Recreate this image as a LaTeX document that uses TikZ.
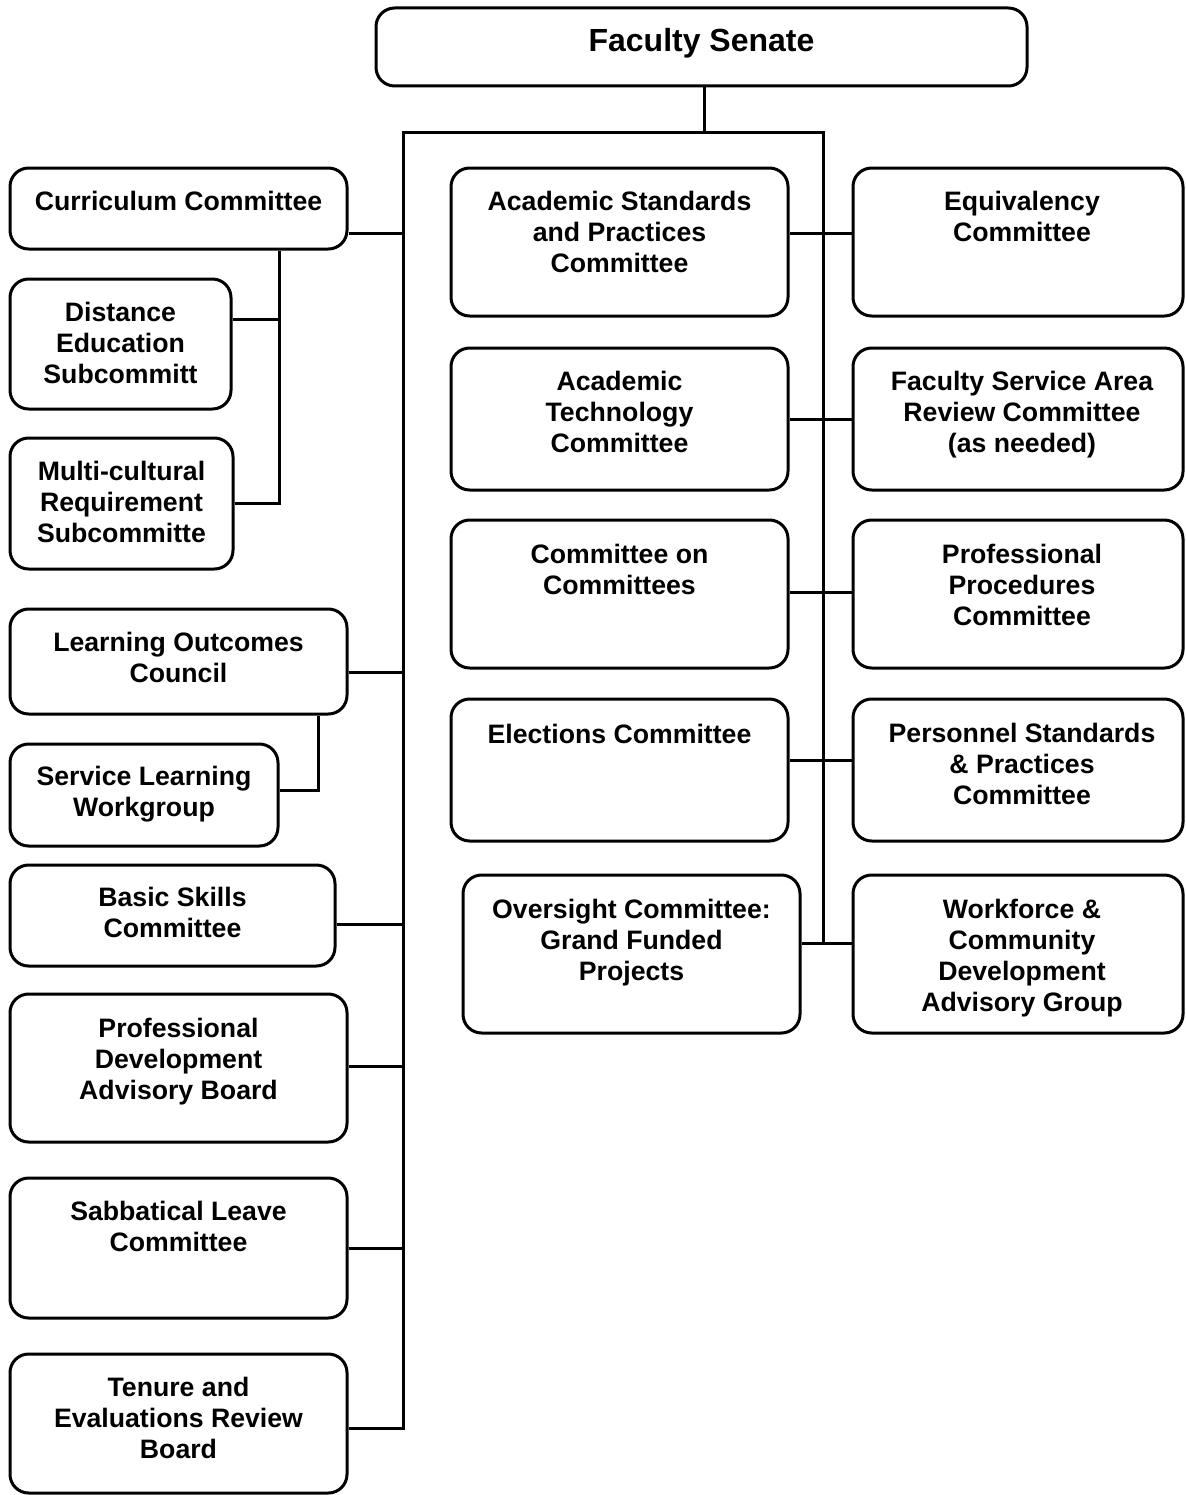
\documentclass[tikz,border=0pt]{standalone}
\usepackage{fontspec}
\setmainfont{Liberation Sans}
\usepackage{tikz}
\usetikzlibrary{positioning}

\tikzset{
    unit/.style={rectangle, draw, rounded corners=14pt, line width=2.25pt, inner sep=0pt},
    sz/.style 2 args={minimum width=#1*0.75pt, minimum height=#2*0.75pt},
    boxtext/.style={align=center, inner sep=0pt, font=\bfseries\fontsize{20}{23.25}\selectfont},
    link/.style={line width=2.25pt}
}

\begin{document}
\begin{tikzpicture}[x=0.75pt, y=-0.75pt]
\useasboundingbox (0,0) rectangle (1185,1495);

% Senate at the top
\node[unit, sz={651}{78}] (fs) at (701.5,47) {};
\node[boxtext, font=\bfseries\fontsize{24}{28}\selectfont, below=16pt of fs.north] (fs-t) {Faculty Senate};

% Left column
\node[unit, sz={337}{81}] (cc) at (178.5,208.5) {};
\node[boxtext, below=18.2pt of cc.north] (cc-t) {Curriculum Committee};
\node[unit, sz={221}{130}] (de) at (120.5,344) {};
\node[boxtext, below=18.2pt of de.north] (de-t) {Distance\\Education\\Subcommitt};
\node[unit, sz={223}{131}] (mc) at (121.5,503.5) {};
\node[boxtext, below=18.2pt of mc.north] (mc-t) {Multi-cultural\\Requirement\\Subcommitte};
\node[unit, sz={337}{105}] (lo) at (178.5,661.5) {};
\node[boxtext, below=18.2pt of lo.north] (lo-t) {Learning Outcomes\\Council};
\node[unit, sz={268}{102}] (sl) at (144,795) {};
\node[boxtext, below=17.6pt of sl.north] (sl-t) {Service Learning\\Workgroup};
\node[unit, sz={325}{101}] (bs) at (172.5,915.5) {};
\node[boxtext, below=17.6pt of bs.north] (bs-t) {Basic Skills\\Committee};
\node[unit, sz={337}{148}] (pd) at (178.5,1068) {};
\node[boxtext, below=18.9pt of pd.north] (pd-t) {Professional\\Development\\Advisory Board};
\node[unit, sz={337}{140}] (sb) at (178.5,1248) {};
\node[boxtext, below=18.2pt of sb.north] (sb-t) {Sabbatical Leave\\Committee};
\node[unit, sz={337}{139}] (te) at (178.5,1423.5) {};
\node[boxtext, below=18.2pt of te.north] (te-t) {Tenure and\\Evaluations Review\\Board};

% Middle column
\node[unit, sz={337}{148}] (as) at (619.5,242) {};
\node[boxtext, below=18.2pt of as.north] (as-t) {Academic Standards\\and Practices\\Committee};
\node[unit, sz={337}{142}] (at) at (619.5,419) {};
\node[boxtext, below=18.2pt of at.north] (at-t) {Academic\\Technology\\Committee};
\node[unit, sz={337}{148}] (coc) at (619.5,594) {};
\node[boxtext, below=18.9pt of coc.north] (coc-t) {Committee on\\Committees};
\node[unit, sz={337}{142}] (el) at (619.5,770) {};
\node[boxtext, below=19.6pt of el.north] (el-t) {Elections Committee};
\node[unit, sz={337}{158}] (ov) at (631.5,954) {};
\node[boxtext, below=18.9pt of ov.north] (ov-t) {Oversight Committee:\\Grand Funded\\Projects};

% Right column
\node[unit, sz={330}{148}] (eq) at (1018,242) {};
\node[boxtext, below=18.2pt of eq.north, xshift=3pt] (eq-t) {Equivalency\\Committee};
\node[unit, sz={330}{142}] (fsa) at (1018,419) {};
\node[boxtext, below=18.2pt of fsa.north, xshift=3pt] (fsa-t) {Faculty Service Area\\Review Committee\\(as needed)};
\node[unit, sz={330}{148}] (pp) at (1018,594) {};
\node[boxtext, below=18.9pt of pp.north, xshift=3pt] (pp-t) {Professional\\Procedures\\Committee};
\node[unit, sz={330}{142}] (ps) at (1018,770) {};
\node[boxtext, below=18.9pt of ps.north, xshift=3pt] (ps-t) {Personnel Standards\\\& Practices\\Committee};
\node[unit, sz={330}{158}] (wf) at (1018,954) {};
\node[boxtext, below=18.9pt of wf.north, xshift=3pt] (wf-t) {Workforce \&\\Community\\Development\\Advisory Group};

% Bus lines
\coordinate (lbus) at (403,132);
\coordinate (rbus) at (823,132);
\draw[link] ([xshift=1.9pt]fs.south) -- ([xshift=1.9pt]fs.south |- lbus);
\draw[link] ([yshift=-3.4pt]te.east) -| (lbus) -- (rbus) |- ([yshift=8.25pt]ov.east);

% Left branches
\draw[link] ([yshift=-18.4pt]cc.east) -| (lbus);
\draw[link] ([yshift=-7.9pt]lo.east) -| (lbus);
\draw[link] ([yshift=-6.4pt]bs.east) -| (lbus);
\draw[link] ([yshift=1.5pt]pd.east) -| (lbus);
\draw[link] (sb.east) -| (lbus);

% Subcommittees
\coordinate (cc-tap) at ([xshift=-51.75pt]cc.south east);
\draw[link] (cc-tap) |- (mc.east);
\draw[link] ([yshift=18.75pt]de.east) -| (cc-tap);
\coordinate (lo-tap) at ([xshift=-22.5pt]lo.south east);
\draw[link] (lo-tap) |- ([yshift=3.75pt]sl.east);

% Middle to right
\draw[link] ([yshift=6.75pt]as.east) -- ([yshift=6.75pt]eq.west);
\draw[link] (at.east) -- (fsa.west);
\draw[link] ([yshift=1.5pt]coc.east) -- ([yshift=1.5pt]pp.west);
\draw[link] ([yshift=7.5pt]el.east) -- ([yshift=7.5pt]ps.west);
\draw[link] ([yshift=8.25pt]ov.east) -- ([yshift=8.25pt]wf.west);

\end{tikzpicture}
\end{document}
